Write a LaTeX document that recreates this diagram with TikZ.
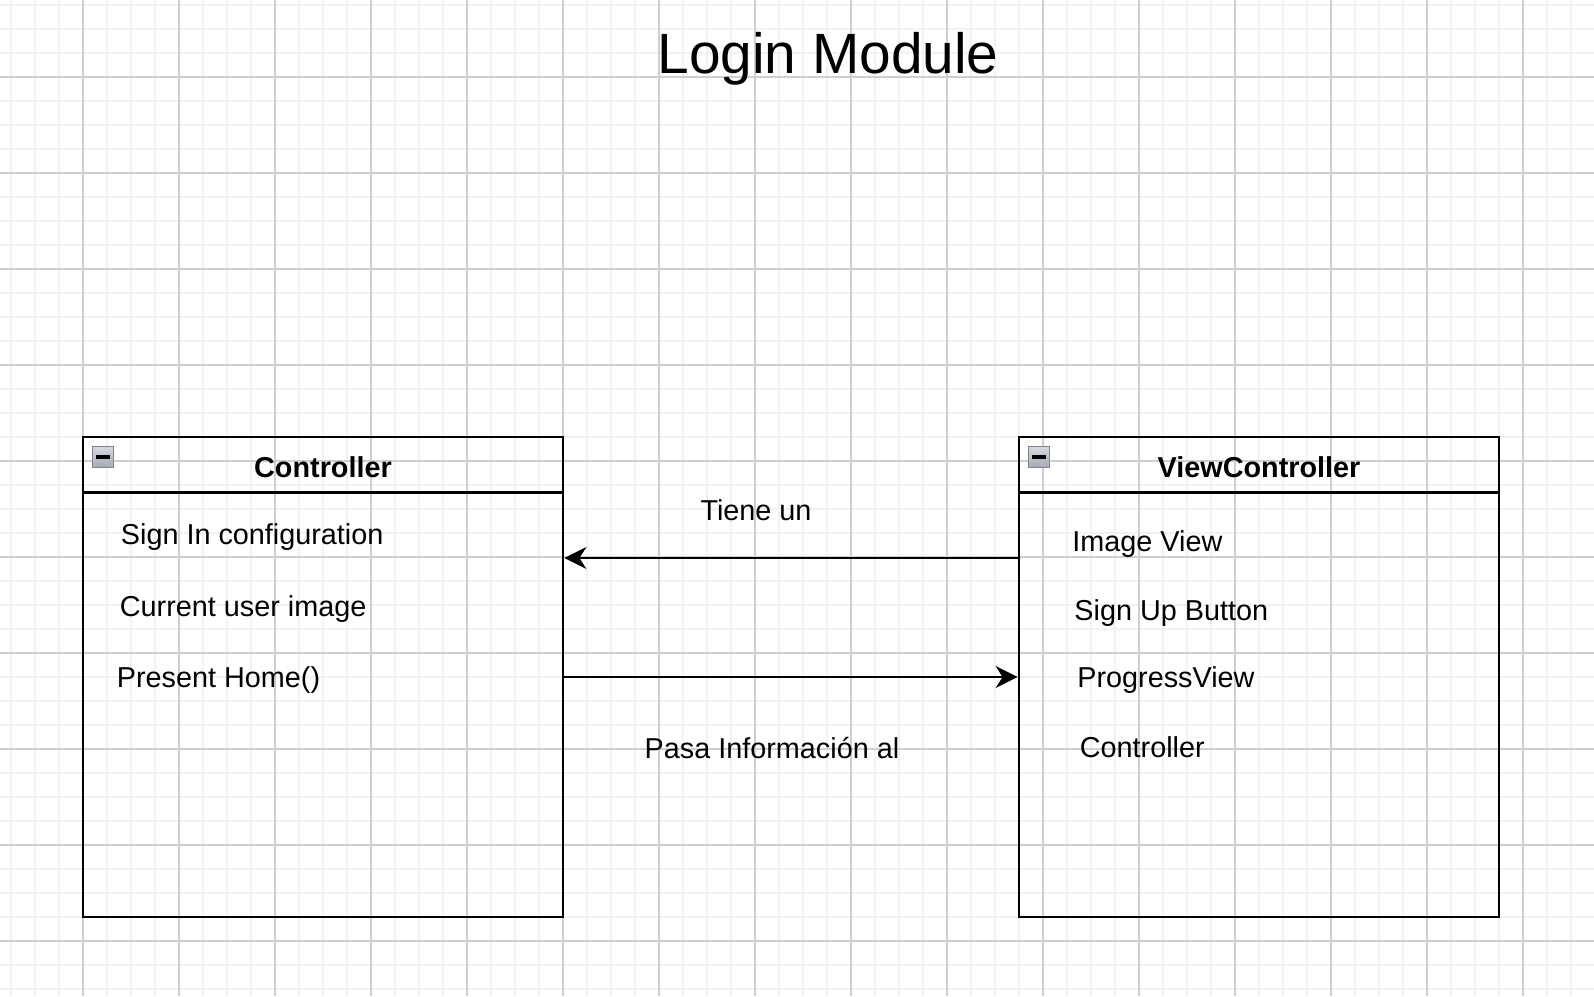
\documentclass[tikz,border=0pt]{standalone}
\usepackage{fontspec}
\setmainfont{Liberation Sans}
\usetikzlibrary{arrows.meta}
\definecolor{foldtop}{HTML}{D6D9E0}
\definecolor{foldbot}{HTML}{A4A9B4}
\definecolor{foldrim}{HTML}{7E8390}
\begin{document}
\begin{tikzpicture}[x=.5pt,y=-.5pt,
		mingrid/.style={black!5,line width=1pt},
		majgrid/.style={black!19,line width=.7pt},
		umlbox/.style={draw,line width=1.4pt,minimum width=240pt,minimum height=240pt,inner sep=0pt},
		hdr/.style={font=\fontsize{14.4}{17}\selectfont\bfseries,anchor=base,inner sep=0pt},
		item/.style={font=\fontsize{14.4}{17}\selectfont,anchor=base west,inner sep=0pt},
		lbl/.style={font=\fontsize{14.4}{17}\selectfont,anchor=base,inner sep=0pt},
		fold/.style={draw=foldrim,line width=.8pt,top color=foldtop,bottom color=foldbot,minimum size=10.5pt,inner sep=0pt},
		arr/.style={line width=1.1pt,-{Stealth[length=11pt,width=11pt,inset=3.5pt]}}]
	\def\hdrh{28.5pt}
	\useasboundingbox (0,0) rectangle (1594,996);
	\fill[white] (0,0) rectangle (1594,996);
	\foreach \x in {11,35,...,1594} \draw[mingrid] (\x,0) -- (\x,996);
	\foreach \y in {5,29,...,996} \draw[mingrid] (0,\y) -- (1594,\y);
	\foreach \x in {83,179,...,1594} \draw[majgrid] (\x,0) -- (\x,996);
	\foreach \y in {77,173,...,996} \draw[majgrid] (0,\y) -- (1594,\y);
	
	\node[font=\fontsize{28.4}{34}\selectfont,anchor=base,inner sep=0pt] (title) at (828,73) {Login Module};
	
	\node[umlbox] (ctrl) at (323,677) {};
	\node[umlbox] (view) at (1259,677) {};
	\draw[line width=1.4pt] ([yshift=-\hdrh]ctrl.north west) -- ([yshift=-\hdrh]ctrl.north east);
	\draw[line width=1.4pt] ([yshift=-\hdrh]view.north west) -- ([yshift=-\hdrh]view.north east);
	
	\node[fold,xshift=10.75pt,yshift=-10.75pt] (ctrlfold) at (ctrl.north west) {};
	\node[fold,xshift=10.75pt,yshift=-10.75pt] (viewfold) at (view.north west) {};
	\draw[line width=2pt] ([xshift=-3.5pt]ctrlfold.center) -- ([xshift=3.5pt]ctrlfold.center);
	\draw[line width=2pt] ([xshift=-3.5pt]viewfold.center) -- ([xshift=3.5pt]viewfold.center);
	
	\node[hdr] (ctrlname) at (323,477) {Controller};
	\node[hdr] (viewname) at (1259,477) {ViewController};
	
	\node[item] (signin) at (120.5,544) {Sign In configuration};
	\node[item] (userimg) at (119.5,616) {Current user image};
	\node[item] (present) at (116.5,687) {Present Home()};
	
	\node[item] (imgview) at (1072,551) {Image View};
	\node[item] (signup) at (1074,620) {Sign Up Button};
	\node[item] (progress) at (1077,687) {ProgressView};
	\node[item] (vcctrl) at (1079.5,757) {Controller};
	
	\draw[arr] ([yshift=59.5pt]view.west) -- ([yshift=59.5pt]ctrl.east);
	\draw[arr] (ctrl.east) -- (view.west);
	\node[lbl] (tiene) at (756,520) {Tiene un};
	\node[lbl] (pasa) at (772,758) {Pasa Información al};
\end{tikzpicture}
\end{document}
